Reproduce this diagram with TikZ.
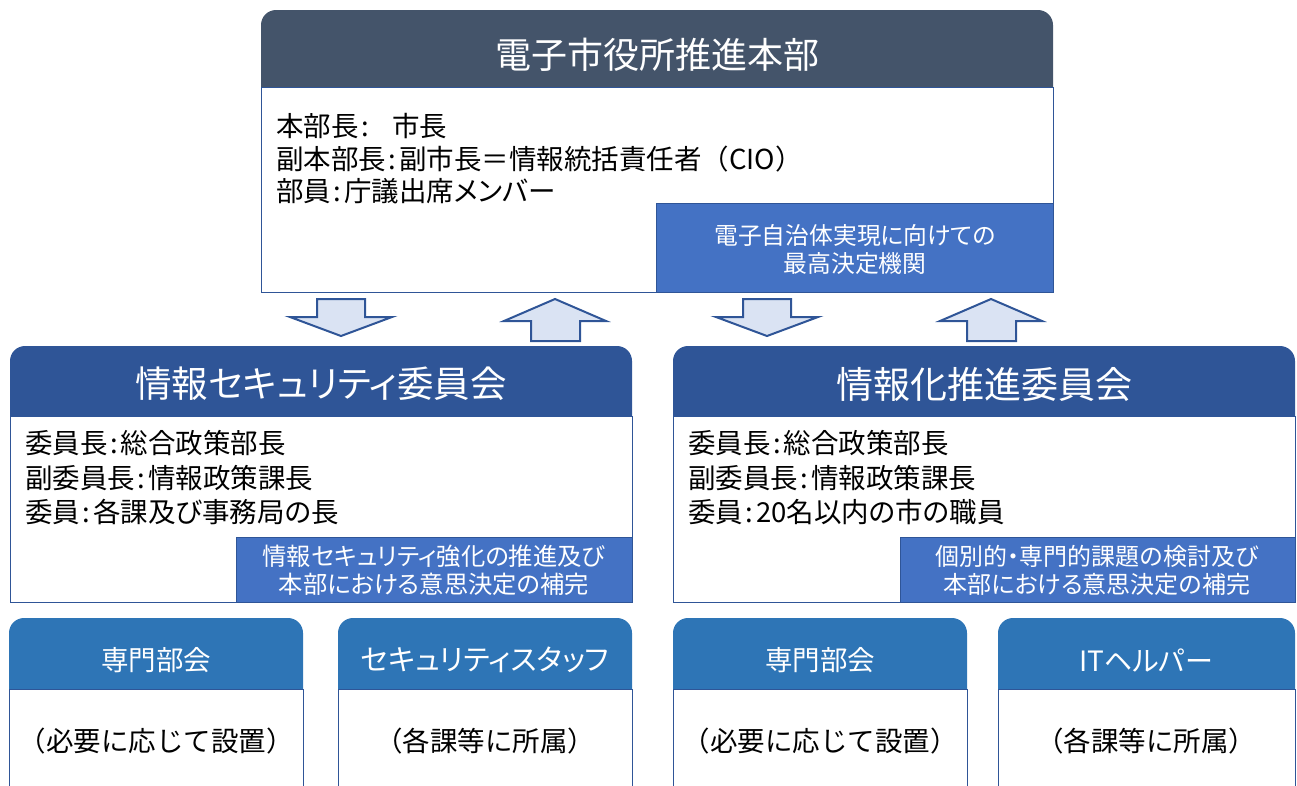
\documentclass[tikz,border=0pt]{standalone}
\usepackage{fontspec}
\setmainfont{Noto Sans CJK JP}[RawFeature=+palt]
\newfontfamily\fullw{Noto Sans CJK JP}
\definecolor{topc}{HTML}{44546A}
\definecolor{midc}{HTML}{2F5597}
\definecolor{subc}{HTML}{4472C4}
\definecolor{botc}{HTML}{2E75B6}
\definecolor{linec}{HTML}{2F5597}
\definecolor{arrc}{HTML}{DAE3F3}
\newcommand{\fsz}[2]{\fontsize{#1}{#2}\selectfont}
\newcommand{\cln}{\hspace{0.1em}:\hspace{0.1em}}
\begin{document}
\begin{tikzpicture}[x=1pt,y=-1pt,
  hdr/.style={rounded corners=15pt},
  bodybox/.style={draw=linec, line width=1.3pt, fill=white, inner sep=0pt, anchor=north west},
  subbox/.style={draw=linec, line width=1.3pt, fill=subc, inner sep=0pt, anchor=north west},
  blockarrow/.style={draw=linec, line width=2pt, fill=arrc, line join=miter},
  wtext/.style={text=white, inner sep=0pt, align=center},
  btext/.style={text=black, inner sep=0pt, align=left, anchor=west},
  ctext/.style={text=black, inner sep=0pt, align=center, font=\fullw\fsz{27.5}{30}},
]
\useasboundingbox (0,0) rectangle (1297,785);
\clip (0,0) rectangle (1297,785);

% ---------- top unit ----------
\fill[topc, hdr] (261,10) rectangle (1053,110);
\node[bodybox, minimum width=792pt, minimum height=205pt] (topbody) at (261,87) {};
\node[wtext, font=\fsz{36}{40}] (toptitle) at (657,55) {電子市役所推進本部};
\node[btext, font=\fsz{27.5}{32.5}] (toptext) at (276,159) {本部長\cln\hspace{0.75em}市長\\副本部長\cln 副市長＝情報統括責任者{\fullw（}CIO{\fullw）}\\部員\cln 庁議出席メンバー};
\node[subbox, minimum width=397pt, minimum height=89pt] (topsub) at (656,203) {};
\node[wtext, font=\fsz{23.8}{28}] (topsubtext) at (855,249) {電子自治体実現に向けての\\最高決定機関};

% ---------- block arrows ----------
\draw[blockarrow] (317,299) -- (365,299) -- (365,317) -- (392,317) -- (341,336) -- (290,317) -- (317,317) -- cycle;
\draw[blockarrow] (555,299) -- (606,321) -- (580,321) -- (580,341) -- (531,341) -- (531,321) -- (504,321) -- cycle;
\draw[blockarrow] (743,299) -- (791,299) -- (791,317) -- (818,317) -- (767,336) -- (716,317) -- (743,317) -- cycle;
\draw[blockarrow] (991,299) -- (1042,321) -- (1016,321) -- (1016,341) -- (967,341) -- (967,321) -- (940,321) -- cycle;

% ---------- middle left ----------
\fill[midc, hdr] (10,346) rectangle (632,440);
\node[bodybox, minimum width=622pt, minimum height=186pt] (secbody) at (10,416) {};
\node[wtext, font=\fsz{36.5}{40}] (sectitle) at (321,384) {情報セキュリティ委員会};
\node[btext, font=\fsz{27.5}{34.5}] (sectext) at (25,478) {委員長\cln 総合政策部長\\副委員長\cln 情報政策課長\\委員\cln 各課及び事務局の長};
\node[subbox, minimum width=396pt, minimum height=65pt] (secsub) at (236,537) {};
\node[wtext, font=\fsz{24.3}{28}] (secsubtext) at (434,570) {情報セキュリティ強化の推進及び\\本部における意思決定の補完};

% ---------- middle right ----------
\fill[midc, hdr] (673,346) rectangle (1295,440);
\node[bodybox, minimum width=622pt, minimum height=186pt] (itbody) at (673,416) {};
\node[wtext, font=\fsz{37}{40}] (ittitle) at (984,384) {情報化推進委員会};
\node[btext, font=\fsz{27.5}{34.5}] (ittext) at (688,478) {委員長\cln 総合政策部長\\副委員長\cln 情報政策課長\\委員\cln 20名以内の市の職員};
\node[subbox, minimum width=395pt, minimum height=65pt] (itsub) at (900,537) {};
\node[wtext, font=\fsz{24}{28}] (itsubtext) at (1097,570) {個別的・専門的課題の検討及び\\本部における意思決定の補完};

% ---------- bottom units ----------
\fill[botc, hdr] (9,618) rectangle (303,710);
\node[bodybox, minimum width=294pt, minimum height=130pt] (b1body) at (9,689) {};
\node[wtext, font=\fsz{27.5}{30}] (b1title) at (156,660) {専門部会};
\node[ctext] (b1text) at (156,741) {（必要に応じて設置）};

\fill[botc, hdr] (338,618) rectangle (632,710);
\node[bodybox, minimum width=294pt, minimum height=130pt] (b2body) at (338,689) {};
\node[wtext, font=\fsz{29}{30}] (b2title) at (485,660) {セキュリティスタッフ};
\node[ctext] (b2text) at (485,741) {（各課等に所属）};

\fill[botc, hdr] (673,618) rectangle (967,710);
\node[bodybox, minimum width=294pt, minimum height=130pt] (b3body) at (673,689) {};
\node[wtext, font=\fsz{27.5}{30}] (b3title) at (820,660) {専門部会};
\node[ctext] (b3text) at (820,741) {（必要に応じて設置）};

\fill[botc, hdr] (998,618) rectangle (1295,710);
\node[bodybox, minimum width=297pt, minimum height=130pt] (b4body) at (998,689) {};
\node[wtext, font=\fsz{28}{30}] (b4title) at (1146,660) {ITヘルパー};
\node[ctext] (b4text) at (1146,741) {（各課等に所属）};
\end{tikzpicture}
\end{document}
